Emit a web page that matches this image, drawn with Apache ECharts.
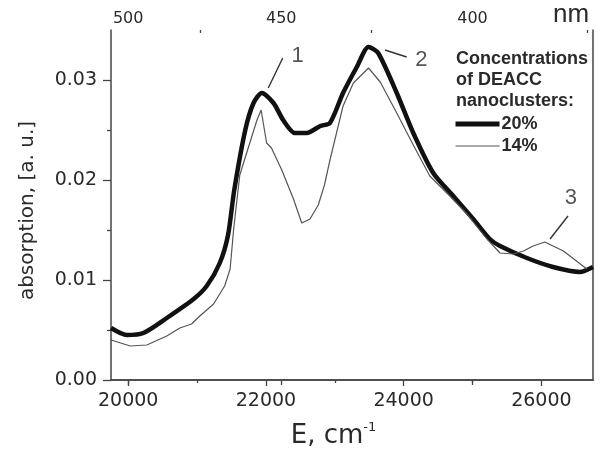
<!DOCTYPE html>
<html>
<head>
<meta charset="utf-8">
<script src="https://cdn.jsdelivr.net/npm/echarts@6/dist/echarts.min.js"></script>
<style>
  html, body { margin: 0; padding: 0; background: #ffffff; }
  #chart { width: 606px; height: 454px; }
</style>
</head>
<body>
<div id="chart"></div>
<script>
// Absorption spectra of DEACC nanoclusters, energy in cm^-1
const energy20 = [19750, 19980, 20220, 20560, 20950, 21140, 21330, 21450, 21540, 21700, 21820, 21940,
  22110, 22250, 22420, 22590, 22790, 22930, 23120, 23320, 23490, 23630, 23900, 24140, 24430, 24720,
  25010, 25250, 25400, 25790, 26170, 26560, 26750];
const absorb20 = [0.0052, 0.0045, 0.0047, 0.0062, 0.0081, 0.0094, 0.0117, 0.0145, 0.0190, 0.0250, 0.0277, 0.0287,
  0.0277, 0.0260, 0.0247, 0.0247, 0.0254, 0.0257, 0.0287, 0.0313, 0.0333, 0.0327, 0.0287, 0.0247, 0.0207, 0.0184,
  0.0161, 0.0141, 0.0134, 0.0122, 0.0113, 0.0108, 0.0113];

const energy14 = [19750, 20030, 20270, 20560, 20750, 20920, 21040, 21240, 21400, 21480, 21530, 21620, 21720,
  21870, 21930, 22010, 22080, 22230, 22400, 22520, 22640, 22760, 22850, 22930, 23120, 23270, 23490, 23660,
  23900, 24140, 24380, 24670, 24920, 25210, 25400, 25590, 25740, 25880, 26050, 26320, 26510, 26660];
const absorb14 = [0.0040, 0.0034, 0.0035, 0.0044, 0.0052, 0.0056, 0.0064, 0.0076, 0.0094, 0.0111, 0.0150, 0.0205, 0.0227,
  0.0260, 0.0270, 0.0237, 0.0232, 0.0210, 0.0181, 0.0157, 0.0161, 0.0175, 0.0195, 0.0220, 0.0274, 0.0297, 0.0312, 0.0298,
  0.0267, 0.0235, 0.0204, 0.0184, 0.0166, 0.0141, 0.0127, 0.0126, 0.0129, 0.0134, 0.0138, 0.0129, 0.0119, 0.0111];

// Axis ticks
const xMajorTicks = [20000, 22000, 24000, 26000];
const xMinorTicks = [21000, 23000, 25000];
const yMajorTicks = [0, 0.01, 0.02, 0.03];
const yMinorTicks = [0.005, 0.015, 0.025];
const nmMajorTicks = [500, 450, 400];
const nmMinorTicks = [475, 425, 375];

// Numbered band callouts: leader start, leader end, label anchor (data units)
const calloutText = ['1', '2', '3'];
const calloutFrom = [[22034, 0.0292], [23729, 0.0330], [26126, 0.0141]];
const calloutTo = [[22244, 0.0322], [24044, 0.0323], [26387, 0.0164]];
const calloutAt = [[22462, 0.0324], [24259, 0.0320], [26430, 0.0182]];

const seriesNames = ['20%', '14%'];

const toWavenumber = nm => 1e7 / nm;
const pair = (xs, ys) => xs.map((x, i) => [x, ys[i]]);

const axisColor = '#444';
const textColor = '#2a2a2a';
const tickFont = 'DejaVu Sans';
const thickWidth = 4.5;
const thinWidth = 1.2;

const chart = echarts.init(document.getElementById('chart'), null, { renderer: 'canvas' });

const baseX = { type: 'value', min: 19750, max: 26750, gridIndex: 0, splitLine: { show: false } };
const baseY = { type: 'value', min: 0, max: 0.035, gridIndex: 0, splitLine: { show: false } };

const callouts = calloutText.map((t, i) => ({
  type: 'line',
  name: 'callout' + t,
  data: [calloutFrom[i], calloutTo[i]],
  symbol: 'none',
  silent: true,
  lineStyle: { color: '#333', width: 1.4 },
  z: 3
}));

const calloutLabels = {
  type: 'scatter',
  name: 'calloutLabels',
  data: calloutAt.map((p, i) => ({ value: p, label: { formatter: calloutText[i] } })),
  symbolSize: 0,
  silent: true,
  label: {
    show: true,
    position: 'inside',
    fontFamily: 'Liberation Sans',
    fontSize: 22,
    color: textColor
  },
  z: 4
};

chart.setOption({
  animation: false,
  backgroundColor: '#ffffff',
  grid: { left: 111, right: 13, top: 30, bottom: 73, containLabel: false },
  title: {
    text: 'Concentrations\nof DEACC\nnanoclusters:',
    left: 451,
    top: 44,
    textStyle: {
      fontFamily: 'Liberation Sans',
      fontWeight: 'bold',
      fontSize: 18,
      lineHeight: 21,
      color: textColor
    }
  },
  legend: {
    data: [
      { name: seriesNames[0], lineStyle: { width: 5, color: '#111' } },
      { name: seriesNames[1], lineStyle: { width: thinWidth, color: '#555' } }
    ],
    orient: 'vertical',
    left: 448,
    top: 110,
    itemWidth: 44,
    itemHeight: 14,
    itemGap: 4,
    itemStyle: { opacity: 0 },
    textStyle: {
      fontFamily: 'Liberation Sans',
      fontWeight: 'bold',
      fontSize: 18,
      color: textColor,
      padding: [0, 0, 0, -3]
    }
  },
  graphic: [{
    type: 'text',
    left: 553,
    top: 2,
    style: { text: 'nm', font: '26px "Liberation Sans"', fill: textColor }
  }],
  xAxis: [
    Object.assign({}, baseX, {
      position: 'bottom',
      axisLine: { show: true, lineStyle: { color: axisColor, width: 1.5 } },
      axisTick: { show: true, customValues: xMajorTicks, length: 6, lineStyle: { color: axisColor, width: 1.3 } },
      axisLabel: {
        customValues: xMajorTicks, formatter: v => String(v),
        fontFamily: tickFont, fontSize: 19, color: textColor, margin: 12
      },
      name: '{m|E, cm}{s|-1}',
      nameLocation: 'middle',
      nameGap: 41,
      nameTextStyle: {
        padding: [0, 37, 0, 0],
        rich: {
          m: { fontFamily: tickFont, fontSize: 26, lineHeight: 30, color: textColor },
          s: { fontFamily: tickFont, fontSize: 13, verticalAlign: 'top', color: textColor }
        }
      }
    }),
    Object.assign({}, baseX, {
      position: 'bottom',
      axisLine: { show: false },
      axisTick: { show: true, customValues: xMinorTicks, length: 3, lineStyle: { color: axisColor, width: 1.3 } },
      axisLabel: { show: false }
    }),
    Object.assign({}, baseX, {
      position: 'top',
      axisLine: { show: true, lineStyle: { color: axisColor, width: 1.5 } },
      axisTick: { show: true, inside: true, customValues: nmMajorTicks.map(toWavenumber), length: 5, lineStyle: { color: axisColor, width: 1.3 } },
      axisLabel: {
        customValues: nmMajorTicks.map(toWavenumber), formatter: v => String(Math.round(1e7 / v)),
        fontFamily: tickFont, fontSize: 16, color: textColor, margin: 3
      }
    }),
    Object.assign({}, baseX, {
      position: 'top',
      axisLine: { show: false },
      axisTick: { show: true, inside: true, customValues: nmMinorTicks.map(toWavenumber), length: 3, lineStyle: { color: axisColor, width: 1.3 } },
      axisLabel: { show: false }
    })
  ],
  yAxis: [
    Object.assign({}, baseY, {
      position: 'left',
      axisLine: { show: true, lineStyle: { color: axisColor, width: 1.5 } },
      axisTick: { show: true, customValues: yMajorTicks, length: 8, lineStyle: { color: axisColor, width: 1.3 } },
      axisLabel: {
        customValues: yMajorTicks, formatter: v => v.toFixed(2),
        fontFamily: tickFont, fontSize: 19, color: textColor, margin: 14
      },
      name: 'absorption, [a. u.]',
      nameLocation: 'middle',
      nameGap: 73,
      nameTextStyle: { fontFamily: tickFont, fontSize: 20, color: textColor, padding: [0, 11, 0, 0] }
    }),
    Object.assign({}, baseY, {
      position: 'left',
      axisLine: { show: false },
      axisTick: { show: true, customValues: yMinorTicks, length: 4, lineStyle: { color: axisColor, width: 1.3 } },
      axisLabel: { show: false }
    }),
    Object.assign({}, baseY, {
      position: 'right',
      axisLine: { show: true, lineStyle: { color: axisColor, width: 1.5 } },
      axisTick: { show: false },
      axisLabel: { show: false }
    })
  ],
  series: [
    {
      type: 'line',
      name: seriesNames[0],
      data: pair(energy20, absorb20),
      symbol: 'none',
      smooth: 0.25,
      lineStyle: { color: '#111', width: thickWidth },
      itemStyle: { color: '#111' },
      z: 2
    },
    {
      type: 'line',
      name: seriesNames[1],
      data: pair(energy14, absorb14),
      symbol: 'none',
      lineStyle: { color: '#555', width: thinWidth },
      itemStyle: { color: '#555' },
      z: 3
    },
    ...callouts,
    calloutLabels
  ]
});
</script>
</body>
</html>
